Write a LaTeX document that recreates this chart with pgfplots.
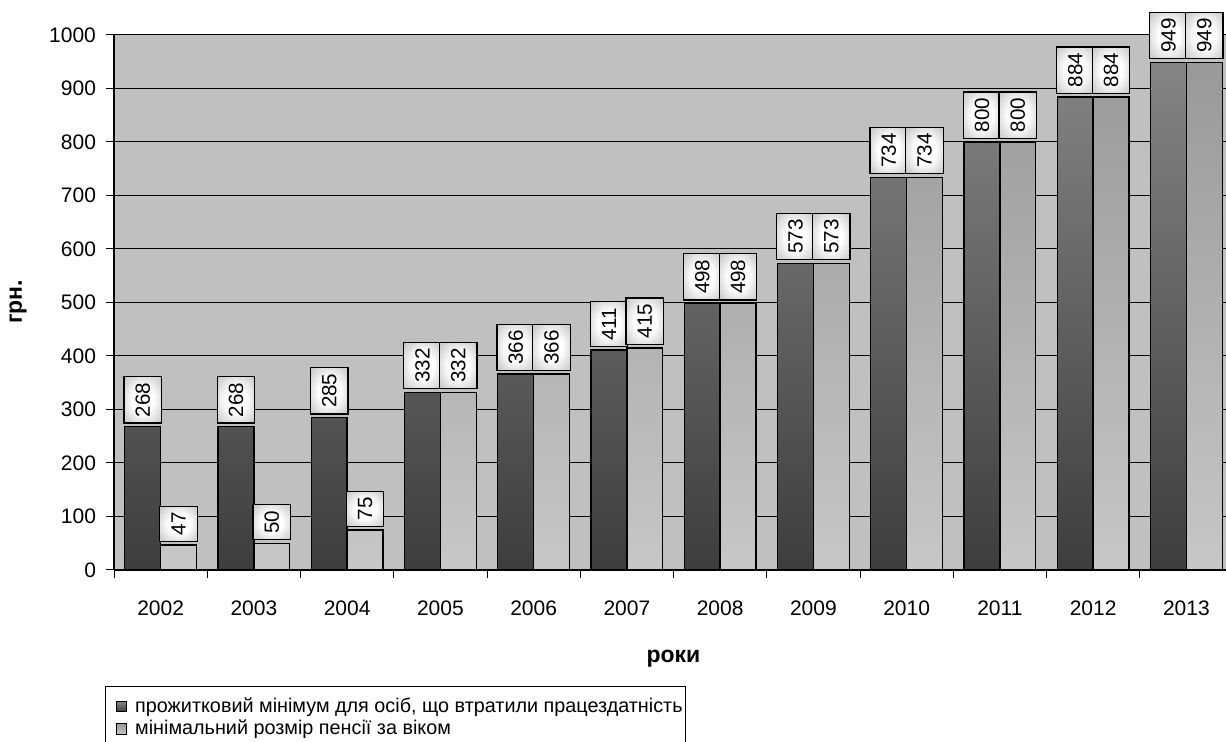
\documentclass[border=0pt]{standalone}
\usepackage{fontspec}
\setmainfont{Liberation Sans}
\usepackage{graphicx}
\usepackage{pgfplots}
\pgfplotsset{compat=1.18}

\definecolor{plotbg}{gray}{0.753}
\definecolor{darktop}{gray}{0.52}
\definecolor{darkbot}{gray}{0.24}
\definecolor{lighttop}{gray}{0.60}
\definecolor{lightbot}{gray}{0.78}

% white-centred fill for the value boxes
\pgfdeclareradialshading{labelshade}{\pgfpoint{0bp}{0bp}}{color(0bp)=(white); color(14bp)=(white); color(40bp)=(black!28); color(50bp)=(black!45)}

% small square legend swatches
\pgfplotsset{sqlegend/.style={legend image code/.code={\path (0pt,0pt); \draw[##1, line width=0.5pt] (4pt,-2.6pt) rectangle (9.2pt,2.6pt);}}}

\begin{document}
\begin{tikzpicture}
\begin{axis}[
  scale only axis, width=559.5pt, height=267.5pt,
  xmin=-0.5, xmax=11.5, ymin=0, ymax=1000,
  clip=false,
  axis lines*=left,
  axis line style={line width=0.6pt},
  axis background/.style={fill=plotbg},
  ybar=0pt, bar width=0.385,
  ytick={0,100,...,1000},
  ymajorgrids, grid style={black, line width=0.5pt},
  xtick={-0.5,0.5,...,11.5},
  xticklabels={2002,2003,2004,2005,2006,2007,2008,2009,2010,2011,2012,2013,{}},
  xticklabel style={xshift=23.31pt, yshift=-8pt},
  yticklabel style={xshift=-1.5pt},
  tick align=outside, major tick length=4pt,
  tick style={black, line width=0.5pt},
  tick label style={font=\fontsize{10.5}{12}\selectfont},
  /pgf/number format/assume math mode=true,
  /pgf/number format/set thousands separator={},
  xlabel={роки}, ylabel={грн.},
  label style={font=\bfseries\fontsize{11.5}{13}\selectfont},
  xlabel style={at={(axis description cs:0.5,-0.172)}, anchor=base},
  ylabel style={at={(axis description cs:-0.0858,0.501)}, anchor=center},
  nodes near coords={\rotatebox{90}{\pgfmathprintnumber{\pgfplotspointmeta}}},
  every node near coord/.append style={anchor=south, draw=black, line width=0.6pt,
    shade, shading=labelshade, text=black, font=\fontsize{10.3}{12}\selectfont,
    inner ysep=3pt, inner xsep=0pt, minimum width=18.75pt,
    text depth=0pt, outer ysep=1.8pt},
  legend style={at={(rel axis cs:-0.00804,-0.2168)}, anchor=north west,
    draw=black, line width=0.6pt, fill=white,
    font=\fontsize{9.9}{11.5}\selectfont,
    row sep=0.5pt, column sep=3.5pt, inner xsep=1pt, inner ysep=4.5pt,
    nodes={inner xsep=0.5pt, inner ysep=1pt}},
  legend cell align=left,
]
\addplot[draw=black, line width=0.7pt, top color=darktop, bottom color=darkbot, sqlegend]
  coordinates {(0,268) (1,268) (2,285) (3,332) (4,366) (5,411) (6,498) (7,573) (8,734) (9,800) (10,884) (11,949)};
\addplot[draw=black, line width=0.7pt, top color=lighttop, bottom color=lightbot, sqlegend]
  coordinates {(0,47) (1,50) (2,75) (3,332) (4,366) (5,415) (6,498) (7,573) (8,734) (9,800) (10,884) (11,949)};
\legend{{прожитковий мінімум для осіб, що втратили працездатність}, {мінімальний розмір пенсії за віком}}
\coordinate (bbsw) at (rel axis cs:-0.10188,-0.32150);
\coordinate (bbne) at (rel axis cs:0.99374,1.06542);
\end{axis}
\pgfresetboundingbox
\path[use as bounding box] (bbsw) rectangle (bbne);
\end{tikzpicture}
\end{document}
